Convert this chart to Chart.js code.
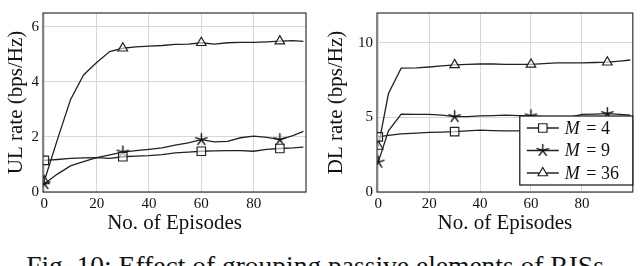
<!DOCTYPE html>
<html>
<head>
<meta charset="utf-8">
<script src="https://cdn.jsdelivr.net/npm/chart.js"></script>
<style>
	body { margin: 0; background: #fff; width: 640px; height: 266px; overflow: hidden; position: relative; }
	.box { position: absolute; top: 0; width: 320px; height: 240px; }
	#caption { position: absolute; left: 0; width: 630px; top: 252px; text-align: center; line-height: 1;
		font-family: "Liberation Serif", serif; font-size: 27.5px; white-space: nowrap; color: #111; }
</style>
</head>
<body>
<div class="box" style="left:0"><canvas id="ulChart" width="320" height="240"></canvas></div>
<div class="box" style="left:320px"><canvas id="dlChart" width="320" height="240"></canvas></div>
<div id="caption">Fig. 10: Effect of grouping passive elements of RISs</div>
<script>
// episodes sampled on each curve
const ulEpisodes = [0, 5, 10, 15, 20, 25, 30, 35, 40, 45, 50, 55, 60, 65, 70, 75, 80, 85, 90, 95, 99];
const ulM4 = [1.15, 1.18, 1.22, 1.24, 1.25, 1.22, 1.28, 1.3, 1.32, 1.36, 1.42, 1.45, 1.48, 1.49, 1.5, 1.5, 1.48, 1.55, 1.58, 1.6, 1.63];
const ulM9 = [0.3, 0.65, 0.95, 1.1, 1.25, 1.35, 1.45, 1.5, 1.55, 1.6, 1.7, 1.78, 1.9, 1.82, 1.84, 1.97, 2.03, 1.98, 1.9, 2.05, 2.2];
const ulM36 = [0.4, 1.9, 3.35, 4.25, 4.7, 5.1, 5.22, 5.27, 5.3, 5.32, 5.36, 5.37, 5.42, 5.37, 5.42, 5.43, 5.43, 5.45, 5.48, 5.5, 5.47];

const dlEpisodes = [0, 4, 9, 15, 20, 25, 30, 35, 40, 45, 50, 55, 60, 65, 70, 75, 80, 85, 90, 95, 99];
const dlM4 = [3.7, 3.8, 3.9, 3.95, 4.0, 4.02, 4.05, 4.1, 4.15, 4.12, 4.1, 4.1, 4.1, 4.1, 4.08, 4.06, 4.05, 4.05, 4.05, 4.08, 4.1];
const dlM9 = [2.0, 4.1, 5.22, 5.2, 5.2, 5.15, 5.05, 5.05, 5.1, 5.12, 5.15, 5.12, 5.1, 5.05, 4.95, 5.0, 5.2, 5.22, 5.25, 5.2, 5.15];
const dlM36 = [3.05, 6.6, 8.3, 8.32, 8.38, 8.45, 8.52, 8.55, 8.58, 8.58, 8.56, 8.56, 8.55, 8.6, 8.65, 8.65, 8.66, 8.68, 8.7, 8.78, 8.85];

const markEpisodes = [0, 30, 60, 90];
const xTicks = [0, 20, 40, 60, 80];
const ulTicks = [0, 2, 4, 6];
const dlTicks = [0, 5, 10];
const seriesLabels = ["M = 4", "M = 9", "M = 36"];

const serif = "'Liberation Serif', serif";

// pgfplots-like five armed star
function makeStar() {
	const cv = document.createElement("canvas");
	cv.width = 15;
	cv.height = 15;
	const c = cv.getContext("2d");
	c.strokeStyle = "#111";
	c.lineWidth = 1.4;
	c.lineCap = "round";
	c.beginPath();
	for (let k = 0; k < 5; k++) {
		const ang = -Math.PI / 2 + (k * 2 * Math.PI) / 5;
		c.moveTo(7.5, 7.5);
		c.lineTo(7.5 + 6 * Math.cos(ang), 7.5 + 6 * Math.sin(ang));
	}
	c.stroke();
	return cv;
}
const starImg = makeStar();
const seriesStyles = ["rect", starImg, "triangle"];

function markerRadius(style) {
	return style === "rect" ? 6 : 5.5;
}

function makeDataset(xs, ys, style, label) {
	return {
		label: label,
		data: xs.map((x, i) => ({ x: x, y: ys[i] })),
		borderColor: "#222",
		borderWidth: 1.3,
		tension: 0,
		pointStyle: style,
		backgroundColor: "rgba(255,255,255,0.6)",
		pointBorderColor: "#222",
		pointBorderWidth: 1.2,
		pointRadius: (ctx) => (ctx.raw && markEpisodes.includes(ctx.raw.x) ? markerRadius(style) : 0),
		pointHoverRadius: 0,
	};
}

// full frame around the plot area
const framePlugin = {
	id: "frame",
	afterDraw(chart) {
		const a = chart.chartArea;
		const c = chart.ctx;
		c.save();
		c.strokeStyle = "#333";
		c.lineWidth = 1.2;
		c.strokeRect(a.left, a.top, a.right - a.left, a.bottom - a.top);
		c.restore();
	},
};

// legend box inside DL plot
const legendPlugin = {
	id: "boxLegend",
	afterDraw(chart) {
		if (chart.canvas.id !== "dlChart") return;
		const c = chart.ctx;
		const a = chart.chartArea;
		const w = 113, h = 69;
		const x0 = a.right - w, y0 = 116;
		c.save();
		c.fillStyle = "#fff";
		c.fillRect(x0, y0, w, h);
		c.strokeStyle = "#111";
		c.lineWidth = 1.2;
		c.strokeRect(x0, y0, w, h);
		seriesLabels.forEach((lab, i) => {
			const y = y0 + 12 + i * 22.5;
			c.strokeStyle = "#222";
			c.lineWidth = 1.3;
			c.beginPath();
			c.moveTo(x0 + 7, y);
			c.lineTo(x0 + 39, y);
			c.stroke();
			c.fillStyle = "#fff";
			c.lineWidth = 1.2;
			Chart.helpers.drawPoint(c, { pointStyle: seriesStyles[i], radius: markerRadius(seriesStyles[i]), borderWidth: 1.2 }, x0 + 23, y);
			const parts = lab.split(" = ");
			c.fillStyle = "#111";
			c.textBaseline = "middle";
			c.font = "italic 18px " + serif;
			c.fillText(parts[0], x0 + 45, y + 1);
			c.font = "18px " + serif;
			c.fillText(" = " + parts[1], x0 + 62, y + 1);
		});
		c.restore();
	},
};

function makeChart(id, xs, series, yMax, yTicks, yTitle, leftWidth, rightPad) {
	const ctx = document.getElementById(id).getContext("2d");
	return new Chart(ctx, {
		type: "line",
		data: {
			datasets: series.map((ys, i) => makeDataset(xs, ys, seriesStyles[i], seriesLabels[i])),
		},
		options: {
			responsive: false,
			animation: false,
			layout: { padding: { top: 3, right: rightPad, left: 0, bottom: 0 } },
			plugins: { legend: { display: false }, tooltip: { enabled: false } },
			scales: {
				x: {
					type: "linear",
					min: -0.5,
					max: 100,
					afterBuildTicks: (s) => { s.ticks = xTicks.map((v) => ({ value: v })); },
					afterFit: (s) => { s.height = 48; },
					grid: { color: "#d8d8d8", drawTicks: false },
					border: { display: false },
					ticks: { color: "#111", padding: 3, font: { family: serif, size: 15 } },
					title: { display: true, text: "No. of Episodes", color: "#111", padding: { top: 0 }, font: { family: serif, size: 21 } },
				},
				y: {
					min: 0,
					max: yMax,
					afterBuildTicks: (s) => { s.ticks = yTicks.map((v) => ({ value: v })); },
					afterFit: (s) => { s.width = leftWidth; },
					grid: { color: "#d8d8d8", drawTicks: false },
					border: { display: false },
					ticks: { color: "#111", padding: 4, font: { family: serif, size: 15 } },
					title: { display: true, text: yTitle, color: "#111", padding: { bottom: 0 }, font: { family: serif, size: 21 } },
				},
			},
		},
		plugins: [framePlugin, legendPlugin],
	});
}

makeChart("ulChart", ulEpisodes, [ulM4, ulM9, ulM36], 6.5, ulTicks, "UL rate (bps/Hz)", 43, 14);
makeChart("dlChart", dlEpisodes, [dlM4, dlM9, dlM36], 12, dlTicks, "DL rate (bps/Hz)", 57, 2);
</script>
</body>
</html>
